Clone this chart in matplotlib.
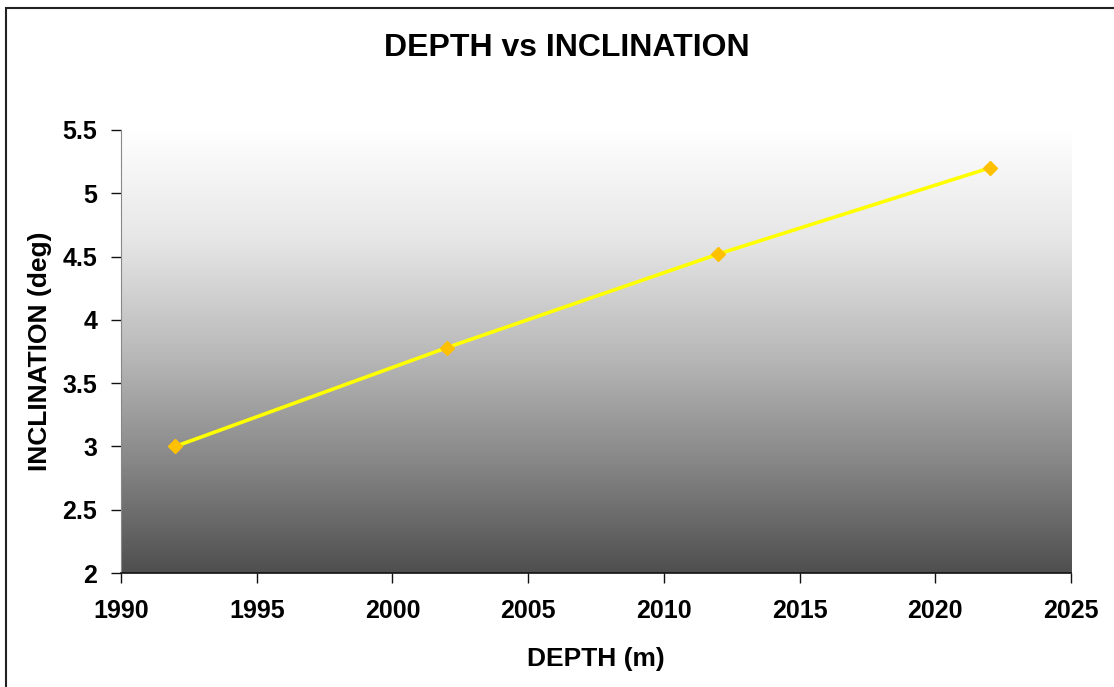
import numpy as np
import matplotlib
matplotlib.use('Agg')
import matplotlib.pyplot as plt
from matplotlib.patches import Rectangle

plt.rcParams['font.family'] = ['Liberation Sans', 'DejaVu Sans']
plt.rcParams['font.weight'] = 'bold'

depth = [1992, 2002, 2012, 2022]
inclination = [3.0, 3.78, 4.52, 5.2]
x_ticks = [1990, 1995, 2000, 2005, 2010, 2015, 2020, 2025]
y_ticks = [2, 2.5, 3, 3.5, 4, 4.5, 5, 5.5]
y_labels = ['2', '2.5', '3', '3.5', '4', '4.5', '5', '5.5']

fig = plt.figure(figsize=(11.14, 6.87), dpi=100)
fig.patch.set_facecolor('white')

# chart frame (only top/left fall inside the canvas)
fig.patches.append(Rectangle((6 / 1114, -0.1), 1.2, 1 - 8 / 687 + 0.1,
                             transform=fig.transFigure, fill=False,
                             edgecolor='#222222', linewidth=1.5))

ax = fig.add_axes([0.1086, 0.1659, 0.8528, 0.6449])
ax.set_xlim(1990, 2025)
ax.set_ylim(2, 5.5)

# vertical grey gradient background, stays light longer near the top
grad = np.linspace(0, 1, 256).reshape(-1, 1)
cmap = matplotlib.colors.LinearSegmentedColormap.from_list(
    'bg', [(0.0, '#4f4f4f'), (0.25, '#878787'), (0.5, '#bababa'),
           (0.75, '#e6e6e6'), (1.0, '#ffffff')])
ax.imshow(grad, aspect='auto', cmap=cmap, origin='lower',
          extent=(0, 1, 0, 1), transform=ax.transAxes, zorder=0)

ax.plot(depth, inclination, color='#ffff00', linewidth=2.6, zorder=2)
ax.plot(depth, inclination, linestyle='none', marker='D', markersize=7,
        color='#ffc000', zorder=3)

for side in ['top', 'right']:
    ax.spines[side].set_visible(False)
ax.spines['left'].set_color('#888888')
ax.spines['bottom'].set_color('#111111')
ax.spines['bottom'].set_linewidth(1.2)

ax.set_xticks(x_ticks)
ax.set_yticks(y_ticks)
ax.set_yticklabels(y_labels)
ax.tick_params(axis='both', direction='out', length=7, width=1, color='#111111',
               labelsize=18)
ax.tick_params(axis='x', pad=12)
ax.tick_params(axis='y', pad=10)

ax.set_xlabel('DEPTH (m)', fontsize=19, fontweight='bold', labelpad=17)
ax.set_ylabel('INCLINATION (deg)', fontsize=19, fontweight='bold', labelpad=8)
fig.text(0.509, 0.930, 'DEPTH vs INCLINATION', fontsize=23, fontweight='bold',
         ha='center', va='center')

fig.savefig('out.png', dpi=100)
